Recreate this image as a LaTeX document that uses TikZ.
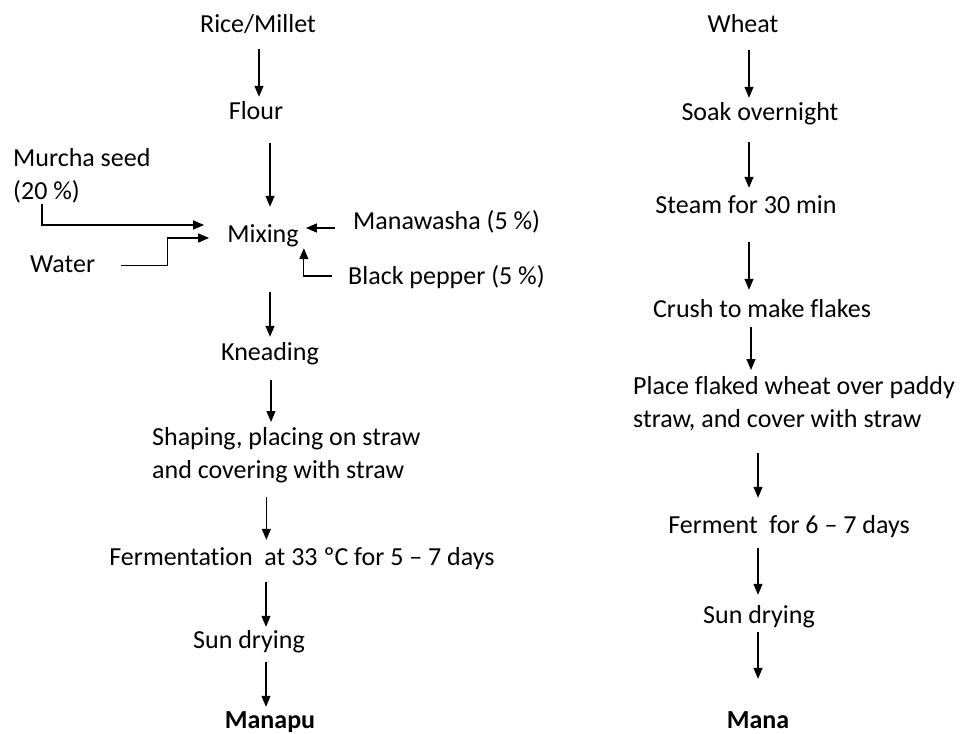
\documentclass[tikz,border=0pt]{standalone}
\usepackage{fontspec}
\setmainfont{Carlito}[Ligatures=NoCommon]
\usetikzlibrary{arrows.meta}

\begin{document}
\begin{tikzpicture}[x=1pt,y=-1pt,font=\fontsize{26}{33}\selectfont,
lbl/.style={inner sep=0pt,text height=19pt,text depth=6pt,anchor=base},
lbl2/.style={inner sep=0pt,align=left,anchor=north west},
flow/.style={line width=1.2pt,-{Triangle[length=11pt,width=9pt]}}]
\useasboundingbox (0,0) rectangle (963,733);
% Manapu
\node[lbl] (rice) at (258,33) {Rice/Millet};
\node[lbl] (flour) at (256,120) {Flour};
\node[lbl] (mix) at (263,242) {Mixing};
\node[lbl2] (murcha) at (13,148.5) {Murcha seed\\(20 \%)};
\node[lbl,anchor=base west] (water) at (30,272) {Water};
\node[lbl,anchor=base west] (manawasha) at (353,229) {Manawasha (5 \%)};
\node[lbl,anchor=base west] (pepper) at (348,284) {Black pepper (5 \%)};
\node[lbl] (knead) at (270,360) {Kneading};
\node[lbl2] (shape) at (152,427) {Shaping, placing on straw\\and covering with straw};
\node[lbl] (ferm) at (302,565) {Fermentation\ \ at 33 ºC for 5 – 7 days};
\node[lbl] (sun) at (249,648) {Sun drying};
\node[lbl,font=\fontsize{26}{33}\selectfont\bfseries] (manapu) at (270,728) {Manapu};
% Mana
\node[lbl] (wheat) at (743,33) {Wheat};
\node[lbl] (soak) at (760,121) {Soak overnight};
\node[lbl] (steam) at (746,213) {Steam for 30 min};
\node[lbl] (crush) at (762,317) {Crush to make flakes};
\node[lbl2] (place) at (633,376) {Place flaked wheat over paddy\\straw, and cover with straw};
\node[lbl] (ferment) at (789,533) {Ferment\ \ for 6 – 7 days};
\node[lbl] (sun2) at (759,623) {Sun drying};
\node[lbl,font=\fontsize{26}{33}\selectfont\bfseries] (mana) at (758,728) {Mana};
% process steps
\foreach \a/\b/\dx/\s/\e in %
{rice/flour/1/10/4,flour/mix/14/17/16,mix/knead/7/44/4,knead/shape/1/14/5,
 shape/ferm/-20/14/6,ferm/sun/-36/11/2,sun/manapu/17/8/2,
 wheat/soak/6/11/4,soak/steam/-11/15/6,steam/crush/3/23/8,crush/place/-11/4/6,
 place/ferment/-36/22/16,ferment/sun2/-31/9/9,sun2/mana/-1/3/30} {
   \path ([xshift=\dx pt,yshift=-\s pt]\a.south) coordinate (p);
   \draw[flow,shorten >=\e pt] (p) -- (p |- \b.north);
}
% additions to mixing
\draw[flow,shorten >=23pt] ([xshift=29pt]murcha.south west) |- ([yshift=10.5pt]mix.west);
\draw[flow,shorten >=18pt] ([xshift=26pt]water.east) -- ++(46,0) |- ([yshift=-2.5pt]mix.west);
\draw[flow,shorten >=7pt] ([xshift=-18pt,yshift=-5.5pt]manawasha.west) coordinate (q) -- (q -| mix.east);
\draw[flow] ([xshift=-16pt,yshift=1.5pt]pepper.west) -| ([xshift=5pt]mix.south east);
\end{tikzpicture}
\end{document}
